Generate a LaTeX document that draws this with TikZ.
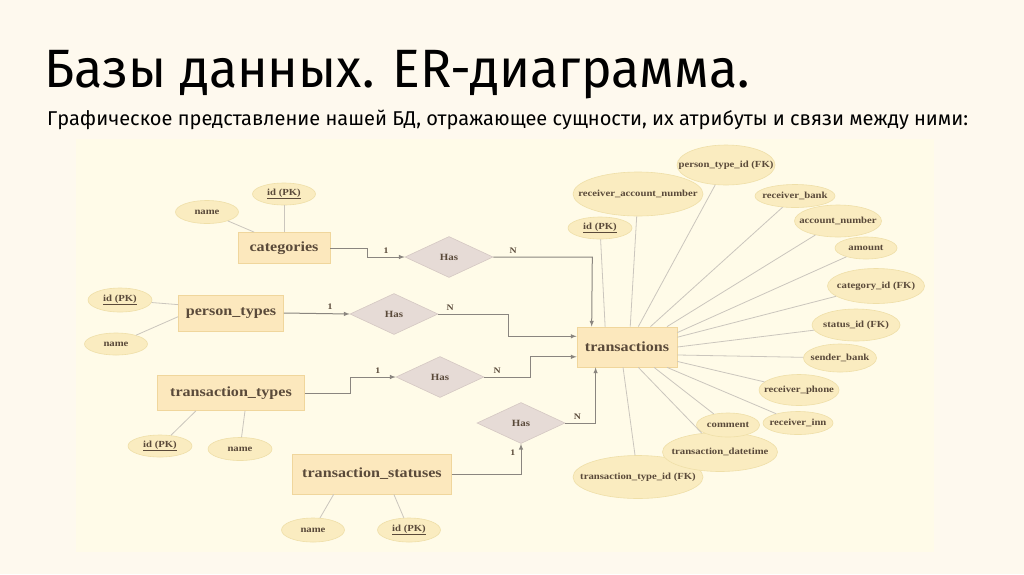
\documentclass[tikz,border=0pt]{standalone}
\usepackage{fontspec}
\setmainfont[FakeStretch=1.15]{Liberation Serif}
\newfontfamily\titlefont[FakeStretch=0.96]{Fira Sans}
\newfontfamily\subtitlefont[FakeStretch=1.0]{Fira Sans}
\usetikzlibrary{shapes.geometric,positioning}
\definecolor{slidebg}{HTML}{FEF9EE}
\definecolor{diagbg}{HTML}{FFFBE8}
\definecolor{entfill}{HTML}{FCE8BD}
\definecolor{entline}{HTML}{F0D69C}
\definecolor{attfill}{HTML}{FAECC0}
\definecolor{attline}{HTML}{EFDFA8}
\definecolor{relfill}{HTML}{E6DBD6}
\definecolor{relline}{HTML}{D5C8C3}
\definecolor{ertext}{HTML}{5A4A3A}
\definecolor{conn}{HTML}{8A857F}
\definecolor{attconn}{HTML}{CBC6BD}
\tikzset{
	entity/.style={draw=entline,fill=entfill,line width=0.8pt,text=ertext,font=\bfseries\fontsize{14}{16}\selectfont,inner sep=0pt},
	attrtext/.style={text=ertext,font=\bfseries\fontsize{9.3}{11}\selectfont,inner sep=0pt},
	attr/.style={ellipse,draw=attline,fill=attfill,line width=0.6pt,inner sep=0pt,label={[attrtext]center:#1}},
	rel/.style={diamond,draw=relline,fill=relfill,line width=0.6pt,text=ertext,font=\bfseries\fontsize{9.5}{11}\selectfont,inner sep=0pt,aspect=2.1,minimum width=88pt,minimum height=41pt},
	link/.style={draw=conn,line width=1pt,->,>=latex},
	attlink/.style={draw=attconn,line width=0.8pt},
	card/.style={text=ertext,font=\bfseries\fontsize{8.5}{9}\selectfont}
}
\begin{document}
\begin{tikzpicture}[x=1pt,y=-1pt]
	\useasboundingbox[fill=slidebg] (0,0) rectangle (1024,574);
	\fill[diagbg] (76,139) rectangle (934,552);
	% title
	\node[anchor=base west,inner sep=0pt,font=\titlefont\fontsize{54}{60}\selectfont] (title) at (44,87) {Базы данных. ER-диаграмма.};
	\node[anchor=base west,inner sep=0pt,font=\subtitlefont\fontsize{20}{22}\selectfont] (subtitle) at (47,125) {Графическое представление нашей БД, отражающее сущности, их атрибуты и связи между ними:};
	% entities
	\node[entity,minimum width=92pt,minimum height=31pt] (categories) at (284,248) {categories};
	\node[entity,minimum width=105pt,minimum height=36pt] (persontypes) at (231,313) {person\_types};
	\node[entity,minimum width=147pt,minimum height=35pt] (transtypes) at (231,393) {transaction\_types};
	\node[entity,minimum width=159pt,minimum height=40pt] (transstatuses) at (372,474) {transaction\_statuses};
	\node[entity,minimum width=100pt,minimum height=40pt] (transactions) at (627,347) {transactions};
	% relationships
	\node[rel] (hascat) at (449,257) {Has};
	\node[rel] (haspt) at (394,314) {Has};
	\node[rel] (hastt) at (440,377) {Has};
	\node[rel] (hasts) at (521,423) {Has};
	% entity attributes
	\node[attr={\underline{id (PK)}},minimum width=63pt,minimum height=22pt] (catid) at (284,194) {};
	\node[attr=name,minimum width=63pt,minimum height=23pt] (catname) at (207,212) {};
	\node[attr={\underline{id (PK)}},minimum width=64pt,minimum height=24pt] (ptid) at (120,300) {};
	\node[attr=name,minimum width=63pt,minimum height=22pt] (ptname) at (116,344) {};
	\node[attr={\underline{id (PK)}},minimum width=64pt,minimum height=22pt] (ttid) at (160,446) {};
	\node[attr=name,minimum width=64pt,minimum height=23pt] (ttname) at (240,449) {};
	\node[attr=name,minimum width=63pt,minimum height=24pt] (tsname) at (313,530) {};
	\node[attr={\underline{id (PK)}},minimum width=63pt,minimum height=24pt] (tsid) at (409,530) {};
	% transactions attributes
	\node[attr={person\_type\_id (FK)},minimum width=98pt,minimum height=40pt] (tpt) at (726,165) {};
	\node[attr={receiver\_account\_number},minimum width=130pt,minimum height=44pt] (tran) at (638,194) {};
	\node[attr={receiver\_bank},minimum width=80pt,minimum height=23pt] (trb) at (795,196) {};
	\node[attr={\underline{id (PK)}},minimum width=64pt,minimum height=22pt] (tid) at (600,228) {};
	\node[attr={account\_number},minimum width=87pt,minimum height=32pt] (tacc) at (838,221) {};
	\node[attr=amount,minimum width=62pt,minimum height=22pt] (tamt) at (866,248) {};
	\node[attr={category\_id (FK)},minimum width=97pt,minimum height=35pt] (tcat) at (876,286) {};
	\node[attr={status\_id (FK)},minimum width=88pt,minimum height=32pt] (tst) at (856,325) {};
	\node[attr={sender\_bank},minimum width=73pt,minimum height=28pt] (tsb) at (840,358) {};
	\node[attr={receiver\_phone},minimum width=80pt,minimum height=31pt] (tphone) at (799,390) {};
	\node[attr={receiver\_inn},minimum width=70pt,minimum height=23pt] (tinn) at (798,423) {};
	\node[attr={transaction\_type\_id (FK)},minimum width=130pt,minimum height=43pt] (ttt) at (638,477) {};
	\node[attr={transaction\_datetime},minimum width=115pt,minimum height=39pt] (tdt) at (720,452) {};
	\node[attr=comment,minimum width=63pt,minimum height=24pt] (tcom) at (728,425) {};
	% attribute lines
	\draw[attlink] (categories.north) -- (catid);
	\draw[attlink] (categories.152.7) -- (catname);
	\draw[attlink] (persontypes.171) -- (ptid);
	\draw[attlink] (persontypes.-176) -- (ptname);
	\draw[attlink] (transtypes.207.3) -- (ttid);
	\draw[attlink] (transtypes.-52.6) -- (ttname);
	\draw[attlink] (transstatuses.-152.9) -- (tsname);
	\draw[attlink] (transstatuses.-43.6) -- (tsid);
	\draw[attlink] (transactions.137.7) -- (tid);
	\draw[attlink] (transactions.81.5) -- (tran);
	\draw[attlink] (transactions.61.2) -- (tpt);
	\draw[attlink] (transactions.41) -- (trb);
	\draw[attlink] (transactions.27.8) -- (tacc);
	\draw[attlink] (transactions.16.7) -- (tamt);
	\draw[attlink] (transactions.11.3) -- (tcat);
	\draw[attlink] (transactions.0) -- (tst);
	\draw[attlink] (transactions.-9.1) -- (tsb);
	\draw[attlink] (transactions.-16.7) -- (tphone);
	\draw[attlink] (transactions.-27.8) -- (tinn);
	\draw[attlink] (transactions.-37.6) -- (tcom);
	\draw[attlink] (transactions.-61.2) -- (tdt);
	\draw[attlink] (transactions.-101.3) -- (ttt);
	% relationship lines
	\draw[link] (categories.east) -- ++(37,0) |- (hascat.west) node[pos=0.75,above,card]{1};
	\draw[link] (hascat.east) -- ++(99,0) node[pos=0.2,above,card]{N} -- (transactions.150.3);
	\draw[link] (persontypes.east) -- (haspt.west) node[pos=0.7,above,card]{1};
	\draw[link] (haspt.east) -- ++(70,0) node[pos=0.17,above,card]{N} |- (transactions.168.7);
	\draw[link] (transtypes.east) -- ++(46,0) |- (hastt.west) node[pos=0.8,above,card]{1};
	\draw[link] (hastt.east) -- ++(46,0) node[pos=0.28,above,card]{N} |- (transactions.191.3);
	\draw[link] (transstatuses.east) -| (hasts.south) node[pos=0.85,left=2pt,card]{1};
	\draw[link] (hasts.east) -| (transactions.213.7) node[pos=0.2,above,card]{N};
\end{tikzpicture}
\end{document}
